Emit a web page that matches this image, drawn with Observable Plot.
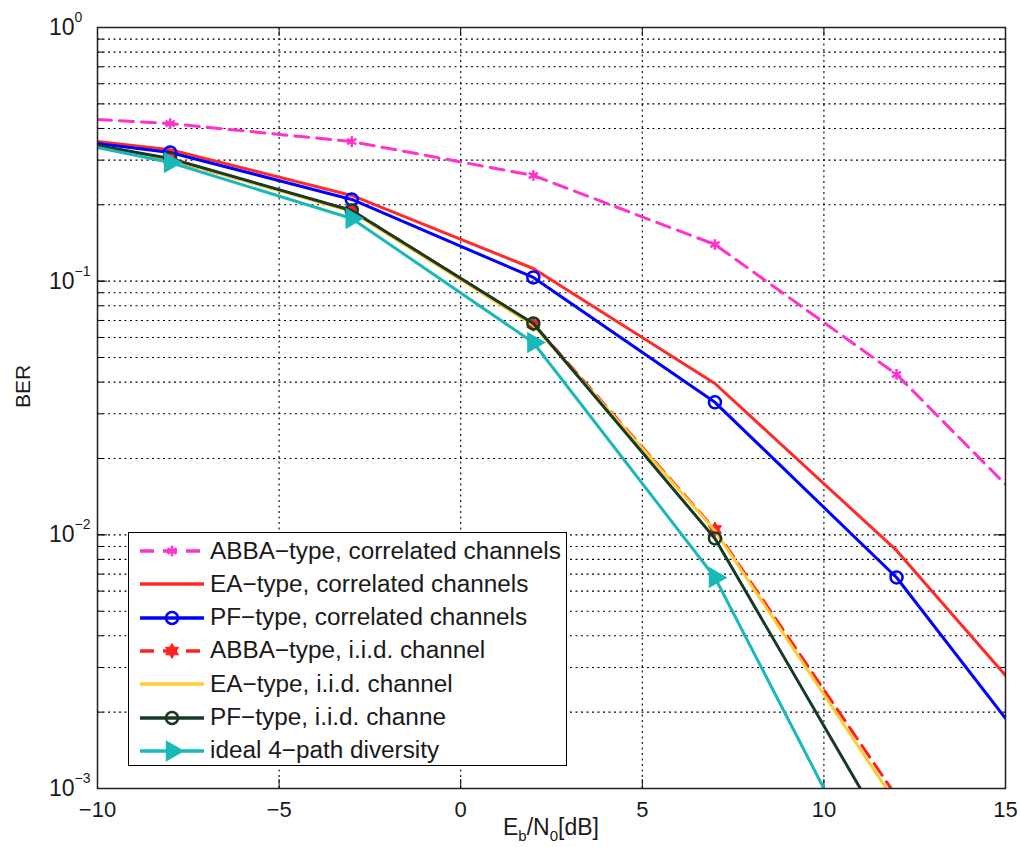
<!DOCTYPE html>
<html><head><meta charset="utf-8">
<script src="https://cdn.jsdelivr.net/npm/d3@7"></script>
<script src="https://cdn.jsdelivr.net/npm/@observablehq/plot@0.6"></script>
<style>
body{margin:0;background:#fff;}
#wrap{position:relative;width:1020px;height:847px;font-family:"Liberation Sans",Arial,sans-serif;overflow:hidden;}
#legend{position:absolute;left:128px;top:532px;width:439px;height:234px;border:1.5px solid #000;background:#fff;box-sizing:border-box;}
.row{position:absolute;left:0;height:30px;display:flex;align-items:center;}
.row span{font-size:23.5px;color:#1a1a1a;white-space:nowrap;margin-left:3px;display:inline-block;transform:scaleX(1.035);transform-origin:left center;}
</style></head><body><div id="wrap"></div>
<script>
// ---- data ----
const xs = [-10, -8, -3, 2, 7, 12, 15];
const xsIid = [-10, -8, -3, 2, 7, 12];
const abbaCorr = [0.434, 0.418, 0.355, 0.261, 0.1395, 0.0429, 0.0158];
const eaCorr   = [0.355, 0.330, 0.2177, 0.1122, 0.0395, 0.00868, 0.00279];
const pfCorr   = [0.349, 0.3217, 0.210, 0.1034, 0.0333, 0.00679, 0.00189];
const abbaIid  = [0.339, 0.301, 0.190, 0.0678, 0.0105, 0.00093];
const eaIid    = [0.340, 0.302, 0.188, 0.067, 0.0104, 0.00087];
const pfIid    = [0.3426, 0.3046, 0.190, 0.0681, 0.00968, 0.000568];
const ideal    = [0.3365, 0.2936, 0.1767, 0.0573, 0.00679, 0.000279];
const markerXs = [-8, -3, 2, 7, 12];
const seriesNames = [
  "ABBA\u2212type, correlated channels",
  "EA\u2212type, correlated channels",
  "PF\u2212type, correlated channels",
  "ABBA\u2212type, i.i.d. channel",
  "EA\u2212type, i.i.d. channel",
  "PF\u2212type, i.i.d. channe",
  "ideal 4\u2212path diversity"
];
const xTicks = [-10, -5, 0, 5, 10, 15];
const xTickLabels = ["\u221210", "\u22125", "0", "5", "10", "15"];
const decades = [1e-3, 1e-2, 1e-1, 1];
const decadeExps = ["\u22123", "\u22122", "\u22121", "0"];

// ---- styles ----
const hexagram = {draw(ctx, size){
  const R = Math.sqrt(size/Math.PI)*1.25, r0 = R/Math.sqrt(3);
  for (let i=0;i<12;i++){ const a=i*Math.PI/6-Math.PI/2, rr=i%2?r0:R;
    const px=rr*Math.cos(a), py=rr*Math.sin(a); i?ctx.lineTo(px,py):ctx.moveTo(px,py);} ctx.closePath();}};
const series = [
  {xs: xs, ys: abbaCorr, color:"#ff33cc", dash:"14,8", sym:"asterisk", d3sym:d3.symbolAsterisk, fill:"none", r:5, sw:2.5},
  {xs: xs, ys: eaCorr, color:"#ff2b2b", dash:null, sym:null},
  {xs: xs, ys: pfCorr, color:"#0000ff", dash:null, sym:"circle", d3sym:d3.symbolCircle, fill:"none", r:6, sw:2.5},
  {xs: xsIid, ys: abbaIid, color:"#ff2020", dash:"14,8", sym:hexagram, d3sym:hexagram, fill:"#ff2020", r:6, sw:1},
  {xs: xsIid, ys: eaIid, color:"#ffcc33", dash:null, sym:null},
  {xs: xsIid, ys: pfIid, color:"#173a27", dash:null, sym:"circle", d3sym:d3.symbolCircle, fill:"none", r:6, sw:2.5},
  {xs: xsIid, ys: ideal, color:"#1ab8b8", dash:null, sym:"triangle", d3sym:d3.symbolTriangle, fill:"#1ab8b8", r:7, sw:1.5, rot:90}
];

const W = 1020, H = 847, mL = 97, mR = 15, mT = 27, mB = 59;
const pw = W - mL - mR, ph = H - mT - mB;

const minor = [];
for (const dcd of [1e-3, 1e-2, 1e-1]) for (let m = 1; m <= 9; m++) minor.push(m*dcd);
minor.push(1);

const gridStyle = {stroke:"#000", strokeOpacity:1, strokeWidth:1.1, strokeDasharray:"2,3.5"};
const marks = [
  Plot.gridY(minor, gridStyle),
  Plot.gridX(xTicks, gridStyle),
  Plot.tickY(minor, {y:d=>d, insetRight: pw-6, stroke:"#000"}),
  Plot.tickY(minor, {y:d=>d, insetLeft: pw-6, stroke:"#000"}),
  Plot.tickY(decades, {y:d=>d, insetRight: pw-10, stroke:"#000"}),
  Plot.tickY(decades, {y:d=>d, insetLeft: pw-10, stroke:"#000"}),
  Plot.tickX(xTicks, {x:d=>d, insetTop: ph-9, stroke:"#000"}),
  Plot.tickX(xTicks, {x:d=>d, insetBottom: ph-9, stroke:"#000"})
];
series.forEach((s, k) => {
  const rows = s.xs.map((x, i) => ({x, y: s.ys[i]}));
  marks.push(Plot.line(rows, {x:"x", y:"y", stroke:s.color, strokeWidth:3, strokeDasharray:s.dash, clip:true}));
  if (s.sym) {
    const mrows = rows.filter(d => markerXs.includes(d.x));
    marks.push(Plot.dot(mrows, {x:"x", y:"y", symbol:()=>s.sym, r:s.r, stroke:s.color, fill:s.fill, strokeWidth:s.sw, rotate:s.rot||0, clip:true}));
  }
});
marks.push(
  Plot.frame({stroke:"#222", strokeWidth:1.5}),
  Plot.axisX({ticks:xTicks, tickSize:0, tickPadding:13, fontSize:22, tickFormat:(d)=>xTickLabels[xTicks.indexOf(d)], label:null, fill:"#1a1a1a"}),
  Plot.text(decades, {y:d=>d, text:()=> "10", frameAnchor:"left", textAnchor:"end", dx:-23, fontSize:23, fill:"#1a1a1a"}),
  Plot.text(decades, {y:d=>d, text:(d,i)=>decadeExps[i], frameAnchor:"left", textAnchor:"start", dx:-23, dy:-10, fontSize:14, fill:"#1a1a1a"}),
  Plot.text(["BER"], {text:d=>d, frameAnchor:"left", rotate:-90, dx:-74, fontSize:21, fill:"#1a1a1a"})
);

const chart = Plot.plot({
  width:W, height:H, marginLeft:mL, marginRight:mR, marginTop:mT, marginBottom:mB,
  style:{fontFamily:'"Liberation Sans", Arial, sans-serif', background:"#fff", overflow:"visible"},
  x:{domain:[-10,15], label:null},
  y:{type:"log", domain:[1e-3,1], axis:null},
  marks
});
const wrap = document.getElementById("wrap");
wrap.appendChild(chart);

// x label with subscripts
const xl = d3.select(chart).append("text")
  .attr("x", mL + pw/2).attr("y", H - 12).attr("text-anchor","middle")
  .attr("font-size", 23).attr("fill", "#1a1a1a");
xl.append("tspan").text("E");
xl.append("tspan").attr("font-size",15).attr("dy",6).text("b");
xl.append("tspan").attr("dy",-6).text("/N");
xl.append("tspan").attr("font-size",15).attr("dy",6).text("0");
xl.append("tspan").attr("dy",-6).text("[dB]");

// legend
const leg = d3.select(wrap).append("div").attr("id","legend");
series.forEach((s, i) => {
  const row = leg.append("div").attr("class","row").style("top", (3 + i*33.3) + "px");
  const sv = row.append("svg").attr("width", 78).attr("height", 30);
  sv.append("line").attr("x1",11).attr("x2",75).attr("y1",15).attr("y2",15)
    .attr("stroke", s.color).attr("stroke-width",3.5).attr("stroke-dasharray", s.dash ? "14,9" : null);
  if (s.sym) {
    const size = Math.PI*s.r*s.r;
    sv.append("path").attr("d", d3.symbol(s.d3sym, size)())
      .attr("transform", `translate(43,15) rotate(${s.rot||0})`)
      .attr("fill", s.fill).attr("stroke", s.color).attr("stroke-width", s.sw);
  }
  row.append("span").text(seriesNames[i]);
});
</script></body></html>
